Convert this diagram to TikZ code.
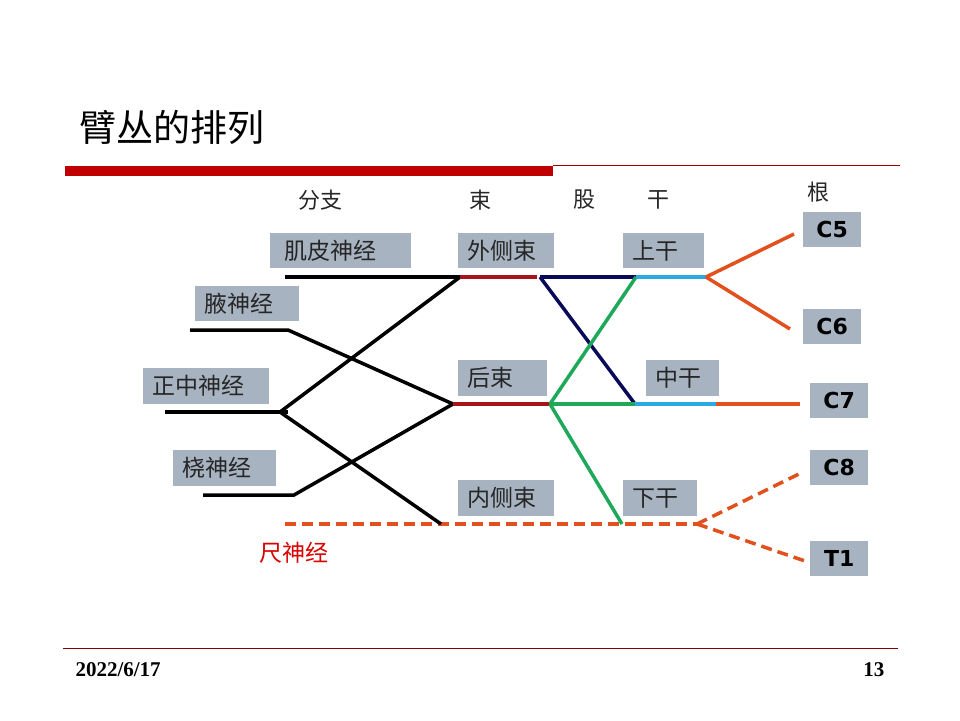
\documentclass[tikz,border=0pt]{standalone}
\usepackage{fontspec}
\setmainfont{Liberation Serif}
\newfontfamily\cjk{Noto Sans CJK SC}
\newfontfamily\vsans{DejaVu Sans}
\definecolor{boxgray}{HTML}{A7B3C1}
\definecolor{barred}{HTML}{C00000}
\definecolor{cordred}{HTML}{A8141A}
\definecolor{rootor}{HTML}{E2501E}
\definecolor{navy}{HTML}{0A0A5A}
\definecolor{grn}{HTML}{1EA85A}
\definecolor{cyn}{HTML}{2AAAE0}
\begin{document}
\begin{tikzpicture}[x=1pt,y=-1pt,
  lbl/.style={fill=boxgray, inner xsep=0pt, inner ysep=0pt, anchor=north west, font=\cjk\fontsize{23}{25}\selectfont, text=black!85},
  rootbox/.style={fill=boxgray, inner sep=0pt, anchor=north west, minimum width=58pt, minimum height=35pt, font=\vsans\bfseries\fontsize{22}{24}\selectfont},
  hdr/.style={font=\cjk\fontsize{22}{24}\selectfont, text=black!85},
  nerve/.style={line width=3.5pt, black},
  cord/.style={line width=3.5pt, cordred},
  rootl/.style={line width=3.5pt, rootor},
  rootd/.style={line width=3.5pt, rootor, dash pattern=on 11pt off 6pt},
  nv/.style={line width=3.5pt, navy},
  gr/.style={line width=3.5pt, grn},
  cy/.style={line width=3.5pt, cyn}]
\useasboundingbox (0,0) rectangle (960,720);
\fill[white] (0,0) rectangle (960,720);
% title and bars
\node[anchor=west, font=\cjk\fontsize{37}{40}\selectfont] (title) at (76,127) {臂丛的排列};
\fill[barred] (65,166) rectangle (553,176);
\draw[barred!80!black, line width=1pt] (553,165.5) -- (900,165.5);
\draw[barred!70!black, line width=1pt] (63,648) -- (898,648);
\node[anchor=west, font=\bfseries\fontsize{21}{23}\selectfont] (date) at (72,670) {2022/6/17};
\node[anchor=east, font=\bfseries\fontsize{21}{23}\selectfont] (page) at (888,670) {13};
% headers
\node[hdr] (h1) at (320,200) {分支};
\node[hdr] (h2) at (480,200) {束};
\node[hdr] (h3) at (584,200) {股};
\node[hdr] (h4) at (658,200) {干};
\node[hdr] (h5) at (818,192) {根};
% label boxes
\node[lbl, minimum width=141pt, minimum height=35pt, text width=131pt, align=left] (jp) at (270,233) {\hspace*{9pt}肌皮神经};
\node[lbl, minimum width=104pt, minimum height=35pt, text width=104pt, align=left] (ye) at (195,286) {\hspace*{9pt}腋神经};
\node[lbl, minimum width=126pt, minimum height=36pt, text width=126pt, align=left] (zz) at (143,368) {\hspace*{9pt}正中神经};
\node[lbl, minimum width=103pt, minimum height=36pt, text width=103pt, align=left] (rao) at (173,450) {\hspace*{9pt}桡神经};
\node[lbl, minimum width=96pt, minimum height=35pt, text width=96pt, align=left] (wc) at (458,233) {\hspace*{9pt}外侧束};
\node[lbl, minimum width=89pt, minimum height=36pt, text width=89pt, align=left] (hs) at (458,360) {\hspace*{9pt}后束};
\node[lbl, minimum width=96pt, minimum height=36pt, text width=96pt, align=left] (nc) at (458,480) {\hspace*{9pt}内侧束};
\node[lbl, minimum width=81pt, minimum height=35pt, text width=81pt, align=left] (sg) at (623,233) {\hspace*{9pt}上干};
\node[lbl, minimum width=73pt, minimum height=36pt, text width=73pt, align=left] (zg) at (646,360) {\hspace*{9pt}中干};
\node[lbl, minimum width=74pt, minimum height=36pt, text width=74pt, align=left] (xg) at (623,480) {\hspace*{9pt}下干};
\node[rootbox] (c5) at (803,212) {C5};
\node[rootbox] (c6) at (803,309) {C6};
\node[rootbox] (c7) at (810,383) {C7};
\node[rootbox] (c8) at (810,450) {C8};
\node[rootbox] (t1) at (810,541) {T1};
\node[anchor=west, font=\cjk\fontsize{23}{25}\selectfont, text=red!85!black] (chi) at (256,553) {尺神经};
% junction coordinates
\coordinate (jpL) at (285,277);
\coordinate (yeL) at (190,330); \coordinate (yeR) at (288,330);
\coordinate (zzL) at (165,412); \coordinate (zzR) at (288,412); \coordinate (zzJ) at (280,412);
\coordinate (raoL) at (203,495); \coordinate (raoR) at (294,495);
\coordinate (wcL) at (460,277); \coordinate (wcR) at (537,277);
\coordinate (hsL) at (453,404); \coordinate (hsR) at (550,404);
\coordinate (ncL) at (441,524);
\coordinate (chL) at (285,524);
\coordinate (fA) at (540,277);
\coordinate (sgL) at (636,277); \coordinate (sgR) at (706,277);
\coordinate (zgL) at (635,404); \coordinate (zgR) at (716,404);
\coordinate (xgL) at (622,524); \coordinate (xgR) at (697,524);
\coordinate (c5e) at (794,234); \coordinate (c6e) at (790,329);
\coordinate (c7e) at (800,404); \coordinate (c8e) at (803,472); \coordinate (t1e) at (805,561);
% dashed ulnar / lower trunk
\draw[rootd] (chL) -- (xgR);
\draw[rootd] (xgR) -- (c8e);
\draw[rootd] (xgR) -- (t1e);
% branch nerves
\draw[nerve] (jpL) -- (wcL);
\draw[nerve] (yeL) -- (yeR) -- (hsL);
\draw[nerve] (zzL) -- (zzR);
\draw[nerve] (wcL) -- (zzJ) -- (ncL);
\draw[nerve] (raoL) -- (raoR) -- (hsL);
% cords
\draw[cord] (wcL) -- (wcR);
\draw[cord] (hsL) -- (hsR);
% divisions
\draw[nv] (fA) -- (sgL);
\draw[nv] (fA) -- (zgL);
\draw[gr] (hsR) -- (zgL);
\draw[gr] (hsR) -- (sgL);
\draw[gr] (hsR) -- (xgL);
% trunks
\draw[cy] (sgL) -- (sgR);
\draw[cy] (zgL) -- (zgR);
% roots
\draw[rootl] (sgR) -- (c5e);
\draw[rootl] (sgR) -- (c6e);
\draw[rootl] (zgR) -- (c7e);
\end{tikzpicture}
\end{document}
